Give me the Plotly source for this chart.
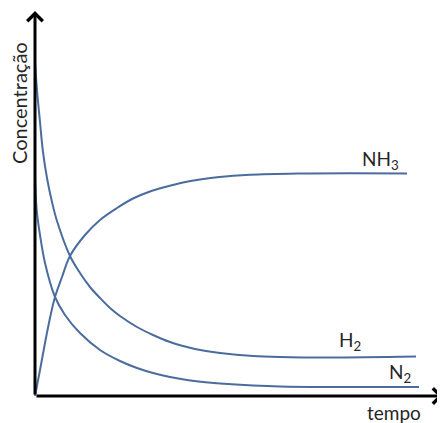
import plotly.graph_objects as go

# tempo (arbitrary units) and concentração (arbitrary units)
t_h2 = [0, 0.2, 0.5, 0.8, 1.2, 1.7, 2.2, 3.5, 4.5, 5.5, 6.5, 7.5, 8.5, 10.2, 11.8, 13.5, 15.2, 16.8, 18.5, 21.8, 24.5, 29.5, 38.1]
c_h2 = [33.4, 30.6, 27.4, 24.4, 21.8, 19.4, 17.5, 14.0, 12.3, 10.9, 9.8, 8.8, 8.0, 6.9, 6.1, 5.4, 4.9, 4.55, 4.3, 4.0, 3.9, 3.85, 3.95]

t_n2 = [0, 0.1, 0.2, 0.5, 1.0, 2.0, 3.0, 4.5, 6.5, 8.5, 10.2, 11.8, 13.5, 15.2, 16.8, 18.5, 21.8, 24.5, 29.5, 38.4]
c_n2 = [21.8, 19.6, 18.3, 16.1, 13.3, 9.9, 8.1, 6.3, 4.6, 3.5, 2.8, 2.3, 1.9, 1.6, 1.4, 1.25, 1.05, 0.95, 0.9, 0.9]

t_nh3 = [0, 0.5, 1.0, 1.5, 2.0, 2.7, 3.5, 5.0, 6.5, 8.2, 9.8, 11.5, 13.2, 14.8, 16.5, 18.2, 21.5, 26.5, 31.5, 37.2]
c_nh3 = [0, 2.6, 5.3, 7.8, 9.9, 11.9, 14.0, 16.1, 17.6, 18.8, 19.75, 20.45, 20.95, 21.35, 21.65, 21.87, 22.12, 22.25, 22.28, 22.25]

series = [
    ("H2", t_h2, c_h2),
    ("N2", t_n2, c_n2),
    ("NH3", t_nh3, c_nh3),
]

LINE = "#4a6d9e"
FONT = "Lato"
TXT = "#262626"

fig = go.Figure()
for name, t, c in series:
    fig.add_trace(go.Scatter(
        x=t, y=c, mode="lines", name=name,
        line=dict(color=LINE, width=2, shape="spline", smoothing=1.0),
        hoverinfo="skip",
    ))

annotations = [
    # y axis arrow
    dict(x=0, y=38.5, ax=0, ay=0, xref="x", yref="y", axref="x", ayref="y",
         showarrow=True, arrowhead=4, arrowwidth=3, arrowsize=1, arrowcolor="black", text=""),
    # x axis arrow
    dict(x=40.8, y=0, ax=0, ay=0, xref="x", yref="y", axref="x", ayref="y",
         showarrow=True, arrowhead=4, arrowwidth=3, arrowsize=1, arrowcolor="black", text=""),
    dict(x=-1.6, y=29.3, xref="x", yref="y", text="Concentração", textangle=-90,
         showarrow=False, font=dict(family=FONT, size=20, color=TXT)),
    dict(x=33.0, y=-1.6, xref="x", yref="y", text="tempo", xanchor="left",
         showarrow=False, font=dict(family=FONT, size=19, color=TXT)),
    dict(x=32.5, y=23.6, xref="x", yref="y", text="NH<sub>3</sub>", xanchor="left",
         showarrow=False, font=dict(family=FONT, size=19, color=TXT)),
    dict(x=30.2, y=5.5, xref="x", yref="y", text="H<sub>2</sub>", xanchor="left",
         showarrow=False, font=dict(family=FONT, size=19, color=TXT)),
    dict(x=35.2, y=2.3, xref="x", yref="y", text="N<sub>2</sub>", xanchor="left",
         showarrow=False, font=dict(family=FONT, size=19, color=TXT)),
]

fig.update_layout(
    width=445, height=423,
    margin=dict(l=0, r=0, t=0, b=0),
    paper_bgcolor="white", plot_bgcolor="white",
    showlegend=False,
    xaxis=dict(visible=False, range=[-2.7, 41.8]),
    yaxis=dict(visible=False, range=[-3.5, 38.8]),
    annotations=annotations,
)

fig.write_html("out.html")
